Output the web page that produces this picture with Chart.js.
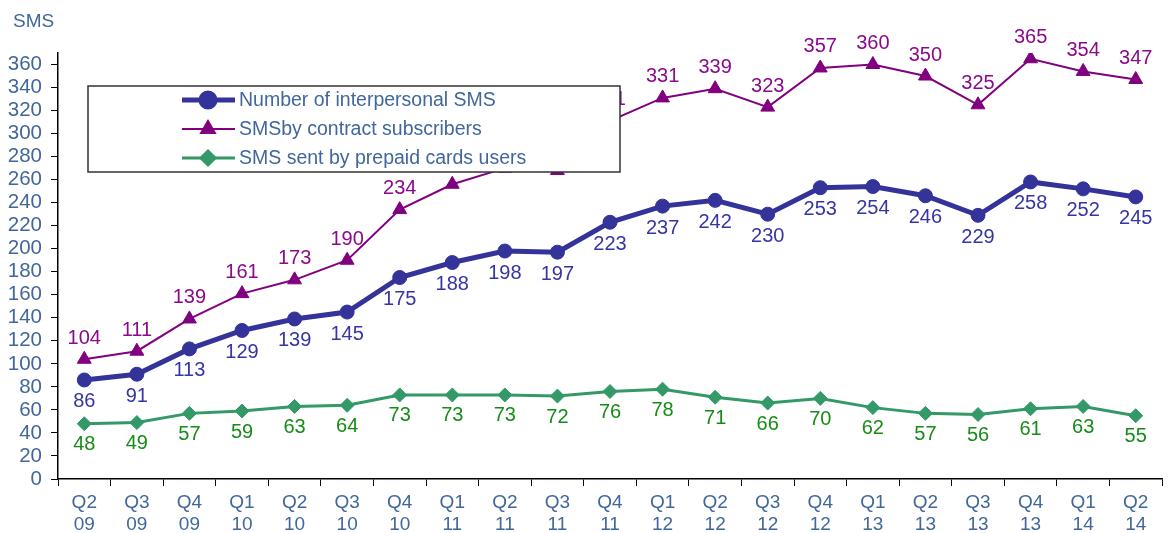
<!DOCTYPE html>
<html>
<head>
<meta charset="utf-8">
<script src="https://cdn.jsdelivr.net/npm/chart.js@4"></script>
<style>
  html, body { margin: 0; padding: 0; background: #fff; }
  #wrap { width: 1172px; height: 533px; position: relative; }
</style>
</head>
<body>
<div id="wrap"><canvas id="chart"></canvas></div>
<script>
// Quarters (two-line tick labels)
const quarters = [
    ['Q2', '09'], ['Q3', '09'], ['Q4', '09'], ['Q1', '10'], ['Q2', '10'], ['Q3', '10'], ['Q4', '10'],
    ['Q1', '11'], ['Q2', '11'], ['Q3', '11'], ['Q4', '11'], ['Q1', '12'], ['Q2', '12'], ['Q3', '12'],
    ['Q4', '12'], ['Q1', '13'], ['Q2', '13'], ['Q3', '13'], ['Q4', '13'], ['Q1', '14'], ['Q2', '14']
];

// Y axis tick values
const yTicks = [0, 20, 40, 60, 80, 100, 120, 140, 160, 180, 200, 220, 240, 260, 280, 300, 320, 340, 360];

// Series values
const interpersonalSms = [86, 91, 113, 129, 139, 145, 175, 188, 198, 197, 223, 237, 242, 230, 253, 254, 246, 229, 258, 252, 245];
const contractSms = [104, 111, 139, 161, 173, 190, 234, 256, 270, 268, 311, 331, 339, 323, 357, 360, 350, 325, 365, 354, 347];
const prepaidSms = [48, 49, 57, 59, 63, 64, 73, 73, 73, 72, 76, 78, 71, 66, 70, 62, 57, 56, 61, 63, 55];

const seriesNames = ['Number of interpersonal SMS', 'SMSby contract subscribers', 'SMS sent by prepaid cards users'];

const tickColor = '#41679b';
const fontFamily = '"Liberation Sans", Arial, sans-serif';
const labelColors = ['#3535a3', '#8a0a8a', '#178c17'];
const labelOffsets = [22, -21, 21];

// Data labels, unit text and the boxed legend drawn on top of the lines
const overlay = {
    id: 'overlay',
    afterDatasetsDraw(chart) {
        const ctx = chart.ctx;
        ctx.save();
        ctx.font = '20px ' + fontFamily;
        ctx.textAlign = 'center';
        ctx.textBaseline = 'middle';
        chart.data.datasets.forEach((ds, i) => {
            const meta = chart.getDatasetMeta(i);
            meta.data.forEach((pt, j) => {
                ctx.fillStyle = labelColors[i];
                ctx.fillText(String(ds.data[j]), pt.x, pt.y + labelOffsets[i]);
            });
        });

        // unit
        ctx.fillStyle = tickColor;
        ctx.textAlign = 'left';
        ctx.font = '19px ' + fontFamily;
        ctx.fillText('SMS', 13, 22);

        // legend box
        ctx.fillStyle = '#fff';
        ctx.fillRect(88, 86, 532, 86);
        ctx.strokeStyle = '#333';
        ctx.lineWidth = 1.5;
        ctx.strokeRect(88, 86, 532, 86);
        const rows = [100, 129, 158];
        chart.data.datasets.forEach((ds, i) => {
            const y = rows[i];
            ctx.strokeStyle = ds.borderColor;
            ctx.lineWidth = ds.borderWidth;
            ctx.beginPath();
            ctx.moveTo(182, y);
            ctx.lineTo(235, y);
            ctx.stroke();
            ctx.fillStyle = ds.pointBackgroundColor;
            ctx.strokeStyle = ds.borderColor;
            Chart.helpers.drawPoint(ctx, {
                pointStyle: ds.pointStyle,
                radius: ds.pointRadius,
                rotation: 0,
                borderWidth: 1
            }, 208, y);
            ctx.fillStyle = tickColor;
            ctx.font = '19.5px ' + fontFamily;
            ctx.textAlign = 'left';
            ctx.fillText(ds.label, 239, y + 1);
        });
        ctx.restore();
    }
};

const ctx = document.getElementById('chart').getContext('2d');
new Chart(ctx, {
    type: 'line',
    data: {
        labels: quarters,
        datasets: [{
            label: seriesNames[0],
            data: interpersonalSms,
            borderColor: '#333399',
            backgroundColor: '#333399',
            pointBackgroundColor: '#333399',
            borderWidth: 5,
            pointStyle: 'circle',
            pointRadius: 7,
            pointBorderWidth: 1
        }, {
            label: seriesNames[1],
            data: contractSms,
            borderColor: '#800080',
            backgroundColor: '#800080',
            pointBackgroundColor: '#800080',
            borderWidth: 2,
            pointStyle: 'triangle',
            pointRadius: 8,
            pointBorderWidth: 1
        }, {
            label: seriesNames[2],
            data: prepaidSms,
            borderColor: '#339966',
            backgroundColor: '#339966',
            pointBackgroundColor: '#339966',
            borderWidth: 3,
            pointStyle: 'rectRot',
            pointRadius: 7,
            pointBorderWidth: 1
        }]
    },
    options: {
        responsive: true,
        maintainAspectRatio: false,
        animation: false,
        layout: { padding: { top: 53, right: 10, left: 0, bottom: 0 } },
        plugins: {
            legend: { display: false },
            tooltip: { enabled: false }
        },
        scales: {
            x: {
                offset: true,
                afterFit(scale) { scale.height = 54; },
                grid: {
                    offset: true,
                    drawOnChartArea: false,
                    tickLength: 7,
                    color: '#000'
                },
                border: { color: '#000', width: 1.5 },
                ticks: {
                    color: tickColor,
                    font: { size: 19, family: fontFamily, lineHeight: 1.15 },
                    padding: 6,
                    maxRotation: 0,
                    autoSkip: false
                }
            },
            y: {
                min: 0,
                max: 370,
                afterFit(scale) { scale.width = 58; },
                afterBuildTicks(scale) {
                    scale.ticks = yTicks.map(v => ({ value: v }));
                },
                grid: {
                    drawOnChartArea: false,
                    tickLength: 7,
                    color: '#000'
                },
                border: { color: '#000', width: 1.5 },
                ticks: {
                    stepSize: 20,
                    autoSkip: false,
                    color: tickColor,
                    font: { size: 20.5, family: fontFamily },
                    padding: 9
                }
            }
        }
    },
    plugins: [overlay]
});
</script>
</body>
</html>
